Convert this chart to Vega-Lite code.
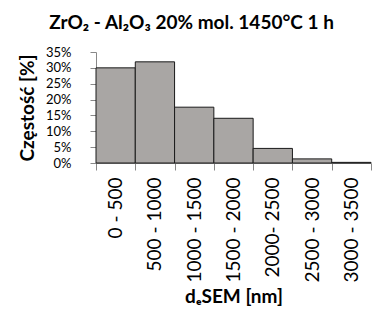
{
  "$schema": "https://vega.github.io/schema/vega-lite/v6.json",
  "width": 275,
  "height": 111,
  "autosize": "none",
  "padding": {"left": 96, "top": 52, "right": 11, "bottom": 158},
  "background": "white",
  "title": {
    "text": "ZrO₂ - Al₂O₃ 20% mol. 1450°C 1 h",
    "font": "Lato",
    "fontSize": 19,
    "fontWeight": "bold",
    "color": "#000000",
    "anchor": "middle",
    "dx": -42,
    "offset": 13
  },
  "data": {
    "values": [
      {"bin": "0 - 500", "pct": 0.300},
      {"bin": "500 - 1000", "pct": 0.319},
      {"bin": "1000 - 1500", "pct": 0.176},
      {"bin": "1500 - 2000", "pct": 0.141},
      {"bin": "2000- 2500", "pct": 0.046},
      {"bin": "2500 - 3000", "pct": 0.013},
      {"bin": "3000 - 3500", "pct": 0.002}
    ]
  },
  "mark": {"type": "bar", "fill": "#a9a6a4", "stroke": "#1a1a1a", "strokeWidth": 1},
  "encoding": {
    "x": {
      "field": "bin",
      "type": "nominal",
      "sort": null,
      "scale": {"paddingInner": 0, "paddingOuter": 0},
      "axis": {
        "title": "dₑSEM [nm]",
        "titleFont": "Lato",
        "titleFontSize": 19,
        "titleFontWeight": "bold",
        "titleColor": "#000000",
        "titlePadding": 6,
        "labelAngle": 270,
        "labelAlign": "right",
        "labelBaseline": "middle",
        "labelFont": "Lato",
        "labelFontSize": 19,
        "labelColor": "#000000",
        "labelPadding": 7,
        "labelOverlap": false,
        "tickBand": "extent",
        "tickSize": 7,
        "tickColor": "#888888",
        "domainColor": "#888888",
        "grid": false
      }
    },
    "y": {
      "field": "pct",
      "type": "quantitative",
      "scale": {"domain": [0, 0.35], "nice": false},
      "axis": {
        "title": "Częstość [%]",
        "titleFont": "Lato",
        "titleFontSize": 19,
        "titleFontWeight": "bold",
        "titleColor": "#000000",
        "titlePadding": 8,
        "format": ".0%",
        "values": [0, 0.05, 0.1, 0.15, 0.2, 0.25, 0.3, 0.35],
        "labelFont": "Lato",
        "labelFontSize": 13,
        "labelColor": "#000000",
        "labelPadding": 19,
        "labelOverlap": false,
        "labelFlush": false,
        "tickSize": 6,
        "tickColor": "#888888",
        "domainColor": "#888888",
        "grid": false
      }
    }
  },
  "config": {"view": {"stroke": null}}
}
